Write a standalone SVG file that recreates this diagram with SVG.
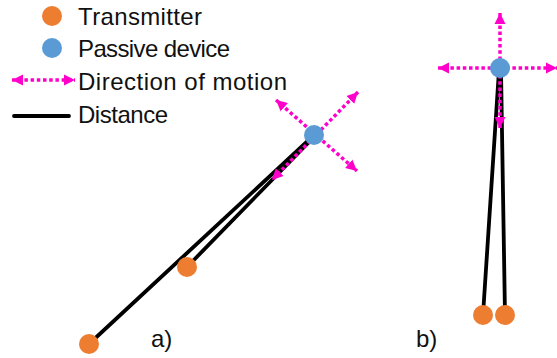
<svg xmlns="http://www.w3.org/2000/svg" width="557" height="358" viewBox="0 0 557 358">
<style>
text{font-family:"Liberation Sans",Arial,sans-serif;font-size:24px;fill:#111}
.tx{fill:#ED7D31}
.pd{fill:#5B9BD5}
.dist{stroke:#000;stroke-width:3.8;fill:none;stroke-linecap:round}
.mot{stroke:#FF00CC;stroke-width:3.5;stroke-dasharray:3.5 2.7;fill:none;marker-start:url(#ah);marker-end:url(#ah)}
</style>
<defs>
<marker id="ah" markerUnits="userSpaceOnUse" markerWidth="12" markerHeight="12" refX="11" refY="6" orient="auto-start-reverse" viewBox="0 0 12 12">
<path d="M0,0.5 L11,6 L0,11.5 z" fill="#FF00CC"/>
</marker>
</defs>
<g id="legend">
<circle class="tx" cx="52" cy="16" r="10"/>
<text x="78" y="25" textLength="124">Transmitter</text>
<circle class="pd" cx="52" cy="48" r="10"/>
<text x="78" y="57" textLength="152">Passive device</text>
<line class="mot" x1="12" y1="80" x2="75" y2="80"/>
<text x="78" y="90" textLength="209">Direction of motion</text>
<line class="dist" x1="14" y1="116" x2="69" y2="116" stroke-linecap="butt"/>
<text x="78" y="123" textLength="90">Distance</text>
</g>
<g id="connectors">
<line class="dist" x1="89" y1="344" x2="312" y2="137"/>
<line class="dist" x1="187" y1="267" x2="313" y2="138"/>
<line class="dist" x1="483" y1="315" x2="499" y2="70"/>
<line class="dist" x1="505" y1="315" x2="501" y2="70"/>
<line class="mot" x1="276" y1="100" x2="357" y2="171"/>
<line class="mot" x1="358" y1="92" x2="272" y2="180"/>
<line class="mot" x1="500" y1="13" x2="500" y2="128"/>
<line class="mot" x1="438" y1="68" x2="557" y2="68"/>
</g>
<g id="tx-a1"><circle class="tx" cx="89" cy="344" r="10"/></g>
<g id="tx-a2"><circle class="tx" cx="187" cy="267" r="10"/></g>
<g id="pd-a"><circle class="pd" cx="314" cy="135" r="10"/></g>
<g id="tx-b1"><circle class="tx" cx="483" cy="315" r="10"/></g>
<g id="tx-b2"><circle class="tx" cx="505" cy="315" r="10"/></g>
<g id="pd-b"><circle class="pd" cx="500" cy="68" r="10"/></g>
<g id="labels">
<text x="151" y="347">a)</text>
<text x="416" y="347">b)</text>
</g>
</svg>
